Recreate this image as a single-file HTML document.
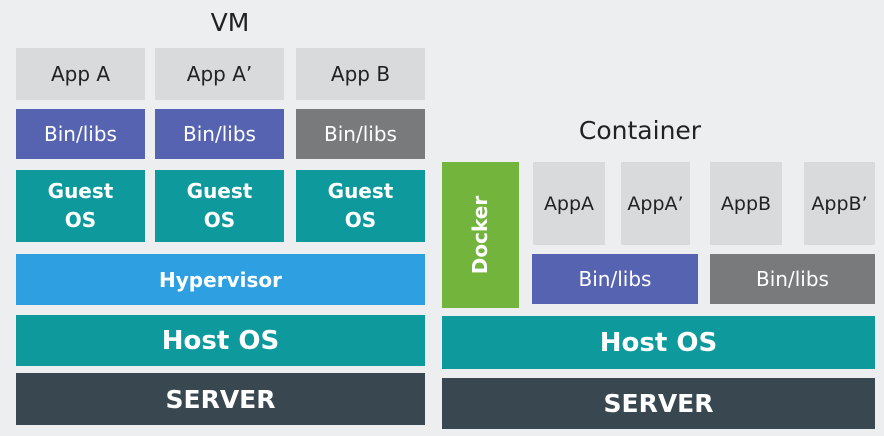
<!DOCTYPE html>
<html><head><style>
body{margin:0;width:884px;height:436px;background:#eceef0;position:relative;overflow:hidden;font-family:"DejaVu Sans","Liberation Sans",sans-serif}
.b{position:absolute;display:flex;align-items:center;justify-content:center;text-align:center;color:#fff;box-sizing:border-box}
.app{background:#d9dadc;color:#222;font-size:20px}
.bin{background:#5663b1;font-size:20px}
.gr{background:#787a7b;font-size:20px}
.t{background:#0e999c;font-weight:bold}
.sv{background:#394750;font-weight:bold}
</style></head><body>
<div class="b" style="left:190px;top:2px;width:80px;height:40px;color:#222;font-size:25px">VM</div>
<div class="b" style="left:535px;top:110px;width:210px;height:40px;color:#222;font-size:25px">Container</div>

<div class="b app" style="left:16px;top:48px;width:129px;height:52px">App A</div>
<div class="b app" style="left:155px;top:48px;width:129px;height:52px">App A’</div>
<div class="b app" style="left:296px;top:48px;width:129px;height:52px">App B</div>
<div class="b bin" style="left:16px;top:109px;width:129px;height:50px">Bin/libs</div>
<div class="b bin" style="left:155px;top:109px;width:129px;height:50px">Bin/libs</div>
<div class="b gr" style="left:296px;top:109px;width:129px;height:50px">Bin/libs</div>
<div class="b t" style="left:16px;top:170px;width:129px;height:72px;font-size:20px;line-height:29px">Guest<br>OS</div>
<div class="b t" style="left:155px;top:170px;width:129px;height:72px;font-size:20px;line-height:29px">Guest<br>OS</div>
<div class="b t" style="left:296px;top:170px;width:129px;height:72px;font-size:20px;line-height:29px">Guest<br>OS</div>
<div class="b" style="left:16px;top:254px;width:409px;height:51px;background:#2ea0e2;font-weight:bold;font-size:20px">Hypervisor</div>
<div class="b t" style="left:16px;top:315px;width:409px;height:51px;font-size:26px">Host OS</div>
<div class="b sv" style="left:16px;top:373px;width:409px;height:52px;font-size:25px">SERVER</div>

<div class="b" style="left:442px;top:162px;width:77px;height:146px;background:#72b43c"><span style="transform:rotate(-90deg);font-weight:bold;font-size:20px;white-space:nowrap">Docker</span></div>
<div class="b app" style="left:533px;top:162px;width:72px;height:83px;font-size:19px">AppA</div>
<div class="b app" style="left:621px;top:162px;width:69px;height:83px;font-size:19px">AppA’</div>
<div class="b app" style="left:710px;top:162px;width:72px;height:83px;font-size:19px">AppB</div>
<div class="b app" style="left:804px;top:162px;width:71px;height:83px;font-size:19px">AppB’</div>
<div class="b bin" style="left:532px;top:254px;width:166px;height:50px">Bin/libs</div>
<div class="b gr" style="left:710px;top:254px;width:165px;height:50px">Bin/libs</div>
<div class="b t" style="left:442px;top:316px;width:433px;height:53px;font-size:26px">Host OS</div>
<div class="b sv" style="left:442px;top:378px;width:433px;height:51px;font-size:25px">SERVER</div>
</body></html>
